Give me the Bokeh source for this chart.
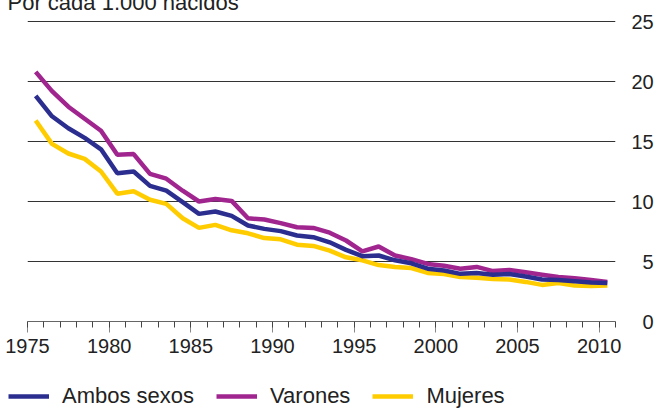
from bokeh.plotting import figure
from bokeh.models import (ColumnDataSource, Legend, LegendItem, Title,
                          SingleIntervalTicker, FixedTicker)
from bokeh.transform import dodge
from bokeh.embed import file_html
from bokeh.resources import INLINE

# ---- data (deaths per 1,000 births) ----
years = list(range(1975, 2011))
ambos = [18.8, 17.1, 16.1, 15.3, 14.35, 12.35, 12.5, 11.3, 10.9, 9.95,
         8.97, 9.17, 8.8, 8.0, 7.72, 7.53, 7.17, 7.03, 6.6, 5.97,
         5.44, 5.5, 5.1, 4.85, 4.4, 4.25, 3.97, 4.05, 3.9, 3.95,
         3.75, 3.5, 3.45, 3.35, 3.25, 3.2]
varones = [20.8, 19.2, 17.9, 16.9, 15.9, 13.9, 13.95, 12.3, 11.9, 10.9,
           10.0, 10.2, 10.05, 8.6, 8.5, 8.2, 7.85, 7.8, 7.4, 6.75,
           5.85, 6.25, 5.5, 5.2, 4.8, 4.65, 4.4, 4.55, 4.2, 4.3,
           4.1, 3.9, 3.7, 3.6, 3.45, 3.3]
mujeres = [16.75, 14.8, 14.0, 13.55, 12.5, 10.65, 10.85, 10.15, 9.8, 8.6,
           7.8, 8.05, 7.6, 7.35, 6.95, 6.85, 6.4, 6.3, 5.9, 5.35,
           5.1, 4.7, 4.55, 4.45, 4.05, 3.95, 3.7, 3.65, 3.55, 3.5,
           3.3, 3.05, 3.2, 3.0, 2.95, 3.0]
y_ticks = [0, 5, 10, 15, 20, 25]
series_names = ["Ambos sexos", "Varones", "Mujeres"]
title_text = "Por cada 1.000 nacidos"

C_AMBOS = "#2b2e8f"
C_VARONES = "#a0258f"
C_MUJERES = "#ffcc00"
FONT = "Liberation Sans"
TXT = "#222222"

src = ColumnDataSource(dict(year=years, ambos=ambos, varones=varones, mujeres=mujeres))

# ---------------- main chart ----------------
p = figure(width=656, height=390, output_backend="svg", toolbar_location=None,
           x_range=(1975, 2011), y_range=(0, 25 + 1 / 12), y_axis_location="right",
           min_border_left=27, min_border_right=34, min_border_top=44,
           min_border_bottom=45,
           styles={"position": "absolute", "left": "0px", "top": "-24px"})
p.outline_line_color = None
p.background_fill_color = "white"
p.border_fill_color = "white"

p.add_layout(Title(text=title_text, align="left", offset=-20, standoff=11,
                   text_font=FONT, text_font_size="22px", text_font_style="normal",
                   text_color=TXT), "above")

xa = p.xaxis[0]
xa.ticker = SingleIntervalTicker(interval=5, num_minor_ticks=5)
xa.axis_line_color = "#666666"
xa.axis_line_width = 1
xa.major_tick_in = 0
xa.major_tick_out = 11
xa.major_tick_line_color = "#888888"
xa.minor_tick_in = 0
xa.minor_tick_out = 6
xa.minor_tick_line_color = "#444444"
xa.major_label_standoff = 6
xa.major_label_text_font = FONT
xa.major_label_text_font_size = "20px"
xa.major_label_text_color = TXT

ya = p.yaxis[0]
ya.ticker = FixedTicker(ticks=y_ticks)
ya.axis_line_color = None
ya.major_tick_line_color = None
ya.minor_tick_line_color = None
ya.major_label_standoff = 10
ya.major_label_overrides = {0: "\u20070", 5: "\u20075"}
ya.major_label_text_font = FONT
ya.major_label_text_font_size = "20px"
ya.major_label_text_color = TXT

p.xgrid.visible = False
p.ygrid.grid_line_color = "#333333"
p.ygrid.grid_line_width = 1

x = dodge("year", 0.5)
p.line(x=x, y="mujeres", source=src, line_color=C_MUJERES, line_width=4.5)
p.line(x=x, y="varones", source=src, line_color=C_VARONES, line_width=4.5)
p.line(x=x, y="ambos", source=src, line_color=C_AMBOS, line_width=4.5)

# ---------------- legend strip (separate root, below the chart) ----------------
pl = figure(width=656, height=42, output_backend="svg", toolbar_location=None,
            x_axis_location=None, y_axis_location=None,
            min_border_left=0, min_border_right=0, min_border_top=0, min_border_bottom=0,
            styles={"position": "absolute", "left": "0px", "top": "366px"})
pl.outline_line_color = None
pl.xgrid.visible = False
pl.ygrid.visible = False
l_amb = pl.line(x=x, y="ambos", source=src, line_color=C_AMBOS, line_width=4.5, visible=False)
l_var = pl.line(x=x, y="varones", source=src, line_color=C_VARONES, line_width=4.5, visible=False)
l_muj = pl.line(x=x, y="mujeres", source=src, line_color=C_MUJERES, line_width=4.5, visible=False)

legend = Legend(items=[LegendItem(label=series_names[0], renderers=[l_amb]),
                       LegendItem(label=series_names[1], renderers=[l_var]),
                       LegendItem(label=series_names[2], renderers=[l_muj])],
                orientation="horizontal", location=(8, -1), padding=0, margin=0,
                spacing=22, glyph_width=41, glyph_height=20, label_standoff=13,
                label_text_font=FONT, label_text_font_size="22px",
                label_text_color=TXT, border_line_color=None,
                background_fill_alpha=0, inactive_fill_alpha=0)
pl.add_layout(legend)

open("out.html", "w").write(file_html([p, pl], INLINE))
